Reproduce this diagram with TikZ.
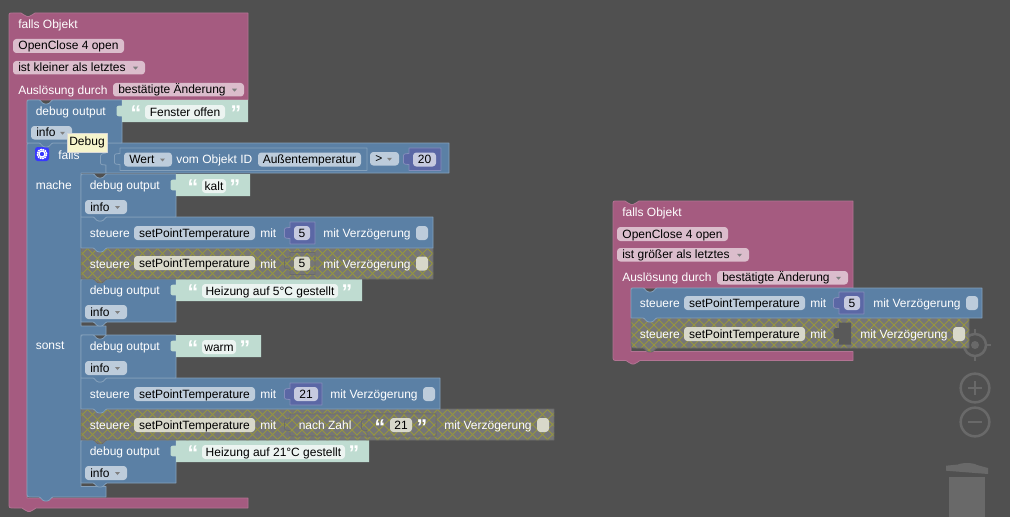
\documentclass[tikz,border=0pt]{standalone}
\usepackage{fontspec}
\setmainfont{Liberation Sans}
\definecolor{bgc}{HTML}{505050}
\definecolor{pinkc}{HTML}{A55B80}
\definecolor{bluec}{HTML}{5B80A5}
\definecolor{numc}{HTML}{5B67A5}
\definecolor{strc}{HTML}{BFDCD1}
\definecolor{ctlc}{HTML}{696969}
\definecolor{hatchbase}{HTML}{767676}
\definecolor{hatchline}{HTML}{96963E}
\definecolor{hatchfld}{HTML}{D8D8CA}
\tikzset{
  lbl/.style={text=white,anchor=west,inner sep=0pt,yshift=-1.2pt,font=\fontsize{9}{11}\selectfont},
  dark/.style={text=black,anchor=center,inner sep=0pt,yshift=-0.8pt,font=\fontsize{9}{11}\selectfont},
  blueblk/.style={fill=bluec,draw=bluec!75!white,line width=.6pt},
  numblk/.style={fill=numc,draw=numc!75!white,line width=.6pt},
  strblk/.style={fill=strc},
  hatchedge/.style={draw=black!58!white,line width=.6pt},
  fldp/.style={fill=white!60!pinkc,rounded corners=2.5pt},
  fldb/.style={fill=white!60!bluec,rounded corners=2.5pt},
  fldh/.style={fill=hatchfld,rounded corners=2.5pt},
  flds/.style={fill=white!70!strc,rounded corners=2.5pt},
  fldn/.style={fill=white!65!numc,rounded corners=2.5pt},
  ctl/.style={draw=ctlc,line width=1.9pt},
  quot/.style={text=white,inner sep=0pt,font=\fontsize{16}{16}\selectfont\bfseries}
}
% stacked statement block: x1 y1 x2 y2 style corner
\newcommand\stmtblk[6]{%
  \path[#5] (#1,#2+#6) .. controls (#1,#2) .. (#1+#6,#2) -- (#1+12,#2)
    .. controls +(2,0) and +(-3,0) .. ++(6,4) -- ++(2,0)
    .. controls +(3,0) and +(-2,0) .. ++(6,-4)
    -- (#3,#2) -- (#3,#4) -- (#1+26,#4)
    .. controls +(-2,0) and +(3,0) .. ++(-6,4) -- ++(-2,0)
    .. controls +(-3,0) and +(2,0) .. ++(-6,-4)
    -- (#1,#4) -- cycle;}
% crosshatched area: path x1 y1 x2 y2
\newcommand\hatchfill[5]{%
  \begin{scope}
    \clip #1;
    \fill[hatchbase] (#2-8,#3-6) rectangle (#4+1,#5+6);
    \foreach \k [evaluate=\k as \kk using {\k*10+#2-50}] in {0,1,...,62}{
      \draw[hatchline,line width=.75pt] (\kk,#3-6) -- (\kk+#5-#3+12,#5+6)
        (\kk+#5-#3+12,#3-6) -- (\kk,#5+6);}
  \end{scope}
  \path[hatchedge] #1;}
\newcommand\hatchstmt[4]{%
  \hatchfill{(#1,#2) -- (#1+12,#2)
    .. controls +(2,0) and +(-3,0) .. ++(6,4) -- ++(2,0)
    .. controls +(3,0) and +(-2,0) .. ++(6,-4)
    -- (#3,#2) -- (#3,#4) -- (#1+26,#4)
    .. controls +(-2,0) and +(3,0) .. ++(-6,4) -- ++(-2,0)
    .. controls +(-3,0) and +(2,0) .. ++(-6,-4)
    -- (#1,#4) -- cycle}{#1}{#2}{#3}{#4}}
% value piece with left tab: x1 y1 x2 y2 style
\newcommand\valblk[5]{%
  \path[#5] (#1,#2) -- (#3,#2) -- (#3,#4) -- (#1,#4) -- (#1,#2+16.5)
    .. controls +(-2,0) and +(0,2) .. ++(-5.5,-2) -- ++(0,-7)
    .. controls +(0,-2) and +(-2,0) .. (#1,#2+5.5) -- cycle;}
\newcommand\hatchval[4]{%
  \hatchfill{(#1,#2) -- (#3,#2) -- (#3,#4) -- (#1,#4) -- (#1,#2+16.5)
    .. controls +(-2,0) and +(0,2) .. ++(-5.5,-2) -- ++(0,-7)
    .. controls +(0,-2) and +(-2,0) .. (#1,#2+5.5) -- cycle}{#1}{#2}{#3}{#4}}
% field: x1 y1 x2 y2 style text id
\newcommand\fld[7]{%
  \path[#5] (#1,#2) rectangle (#3,#4);
  \node[dark] (#7) at ({(#1+#3)/2},{(#2+#4)/2}) {\strut #6};}
% dropdown field: text starts at left+5
\newcommand\drop[7]{%
  \path[#5] (#1,#2) rectangle (#3,#4);
  \node[dark,anchor=west] (#7) at (#1+5,{(#2+#4)/2}) {\strut #6};
  \path[fill=black!50!white] (#3-12,{(#2+#4)/2-1}) -- ++(5,0) -- ++(-2.5,3) -- cycle;}
% white quotes around a text field: left right y id
\newcommand\quotes[4]{%
  \node[quot] (#4a) at (#1,#3+2.5) {“};
  \node[quot] (#4b) at (#2,#3+2.5) {”};}
% debug output block with text: y textright q1 q2 text id
\newcommand\dbg[6]{%
  \stmtblk{81}{#1}{176}{#1+43}{blueblk}{4}
  \valblk{176}{#1}{#2}{#1+22}{strblk}
  \node[lbl] (#6l) at (89.5,#1+11) {\strut debug output};
  \fld{#3+9}{#1+5}{#4-9}{#1+19}{flds}{#5}{#6t}
  \quotes{#3}{#4}{#1+11}{#6q}
  \drop{85}{#1+26}{127}{#1+40}{fldb}{info}{#6i}}
\begin{document}
\begin{tikzpicture}[x=0.75pt,y=-0.75pt,line join=round]
\useasboundingbox (0,0) rectangle (1010,517);
\fill[bgc] (0,0) rectangle (1010,517);

% --- workspace controls
\node[circle,ctl,fill=none,minimum size=16.5pt,inner sep=0pt] (target) at (975,345) {};
\node[circle,fill=ctlc,minimum size=6pt,inner sep=0pt] (targetdot) at (975,345) {};
\draw[ctl] (975,329) -- (975,334) (975,356) -- (975,361) (959,345) -- (964,345) (986,345) -- (991,345);
\node[circle,ctl,minimum size=21.5pt,inner sep=0pt] (zoomin) at (975,388) {};
\draw[ctl] (968,388) -- (982,388) (975,381) -- (975,395);
\node[circle,ctl,minimum size=21.5pt,inner sep=0pt] (zoomout) at (975,422) {};
\draw[ctl] (968,422) -- (982,422);
\fill[ctlc] (949,477) rectangle (985,517);
\fill[ctlc] (946,465.7) -- (958,464.5) .. controls (962,462.5) and (973,462.5) .. (977,465) -- (988,468) -- (988,474) -- (946,470.7) -- cycle;

% ================= LEFT STACK =================
\path[fill=pinkc,draw=pinkc!85!white,line width=.6pt] (9,17) .. controls (9,13) .. (13,13) -- (21,13)
   .. controls +(2,0) and +(-3,0) .. ++(6,3.5) -- ++(2,0) .. controls +(3,0) and +(-2,0) .. ++(6,-3.5)
   -- (248,13) -- (248,100) -- (27,100) -- (27,498) -- (248,498) -- (248,508)
   -- (36,508) .. controls +(-2,0) and +(3,0) .. ++(-6,3.5) -- ++(-2,0) .. controls +(-3,0) and +(2,0) .. ++(-6,-3.5)
   -- (14,508) .. controls (9,508) .. (9,503) -- cycle;
\node[lbl] (t1) at (18,24) {\strut falls Objekt};
\fld{13}{39}{124}{53}{fldp}{OpenClose 4 open}{t2}
\drop{13}{61}{145}{74.5}{fldp}{ist kleiner als letztes}{t3}
\node[lbl] (t4) at (18,90) {\strut Auslösung durch};
\drop{113}{83}{244}{96.5}{fldp}{bestätigte Änderung}{t5}

% blue C (falls/mache/sonst)
\path[blueblk] (27,147) .. controls (27,143) .. (31,143) -- (106,143) -- (106,173) -- (81,173) -- (81,326) -- (106,326)
   -- (106,335) -- (81,335) -- (81,486.5) -- (106,486.5) -- (106,497)
   -- (53,497) .. controls +(-2,0) and +(3,0) .. ++(-6,4) -- ++(-2,0) .. controls +(-3,0) and +(2,0) .. ++(-6,-4)
   -- (32,497) .. controls (27,497) .. (27,492) -- cycle;
% compare block
\path[blueblk] (106,143) -- (449,143) -- (449,173) -- (106,173) -- (106,165)
   .. controls +(-2,0) and +(0,2) .. ++(-5.5,-2) -- ++(0,-7) .. controls +(0,-2) and +(-2,0) .. (106,153) -- cycle;
\valblk{120}{148}{367}{170.5}{blueblk}
\drop{124}{152.5}{172}{166.5}{fldb}{Wert}{wert}
\node[lbl] (vom) at (176,159) {\strut vom Objekt ID};
\fld{258}{152.5}{361}{166.5}{fldb}{Außentemperatur}{aussen}
\drop{370}{152}{399}{165.5}{fldb}{>}{gt}
\valblk{409}{148}{441}{170.5}{numblk}
\fld{413}{152.5}{436}{166.5}{fldn}{20}{n20}
\node[lbl] (falls) at (58,155) {\strut falls};
\node[lbl] (mache) at (35.5,185) {\strut mache};
\node[lbl] (sonst) at (35.5,345) {\strut sonst};
% gear icon
\path[fill=blue!78!white,rounded corners=2pt] (35,147) rectangle (49,161);
\node[circle,draw=white,line width=1.2pt,minimum size=7pt,inner sep=0pt,dash pattern=on 1.3pt off .5pt] (gearteeth) at (42,154) {};
\node[circle,draw=white,line width=.9pt,minimum size=4.5pt,inner sep=0pt] (gear) at (42,154) {};

% mache stack (bottom to top)
\dbg{279}{362}{193}{347}{Heizung auf 5°C gestellt}{d3}
\hatchstmt{81}{248}{433}{279}
\node[lbl] (s2a) at (89.5,263.5) {\strut steuere};
\fld{134}{256}{255}{270}{fldh}{setPointTemperature}{s2f}
\node[lbl] (s2m) at (260,263.5) {\strut mit};
\hatchval{290}{252.5}{315}{274.5}
\fld{294}{256.5}{310}{270.5}{fldh}{5}{s2n}
\node[lbl] (s2v) at (323,263.5) {\strut mit Verzögerung};
\path[fldh] (416,256.5) rectangle (428,270.5);
\stmtblk{81}{217}{433}{248}{blueblk}{0}
\node[lbl] (s1a) at (89.5,233) {\strut steuere};
\fld{134}{226}{255}{240}{fldb}{setPointTemperature}{s1f}
\node[lbl] (s1m) at (260,233) {\strut mit};
\valblk{290}{222}{315}{244}{numblk}
\fld{294}{226}{310}{240}{fldn}{5}{s1n}
\node[lbl] (s1v) at (323,233) {\strut mit Verzögerung};
\path[fldb] (416,226) rectangle (428,240);
\dbg{174}{250}{193}{235}{kalt}{d2}

% sonst stack
\dbg{440}{369}{193}{354}{Heizung auf 21°C gestellt}{d5}
\hatchstmt{81}{409}{554}{440}
\node[lbl] (s4a) at (89.5,425) {\strut steuere};
\fld{134}{418}{255}{432}{fldh}{setPointTemperature}{s4f}
\node[lbl] (s4m) at (260,425) {\strut mit};
\hatchval{290}{414}{436}{436}
\node[lbl] (s4z) at (298.5,425) {\strut nach Zahl};
\hatchval{367}{414}{436}{436}
\fld{390}{418}{412}{432}{fldh}{21}{s4n}
\quotes{380}{422}{425}{s4q}
\node[lbl] (s4v) at (444,425) {\strut mit Verzögerung};
\path[fldh] (537,418) rectangle (549,432);
\stmtblk{81}{378}{440}{409}{blueblk}{0}
\node[lbl] (s3a) at (89.5,394) {\strut steuere};
\fld{134}{387}{255}{401}{fldb}{setPointTemperature}{s3f}
\node[lbl] (s3m) at (260,394) {\strut mit};
\valblk{290}{383}{322}{405}{numblk}
\fld{294}{387}{318}{401}{fldn}{21}{s3n}
\node[lbl] (s3v) at (330,394) {\strut mit Verzögerung};
\path[fldb] (423,387) rectangle (435,401);
\dbg{335}{261}{193}{245}{warm}{d4}

% first debug block
\stmtblk{27}{100}{122}{143}{blueblk}{4}
\valblk{122}{100}{248}{122}{strblk}
\node[lbl] (d1l) at (35.5,111) {\strut debug output};
\fld{145}{105}{225}{119}{flds}{Fenster offen}{d1t}
\quotes{136}{236}{111}{d1q}
\drop{31}{126}{72}{139.5}{fldb}{info}{d1i}
% tooltip
\node[draw=black!15!white,fill=yellow!18!white!96!black,text=black,inner sep=0pt,minimum width=30pt,minimum height=14.2pt,font=\fontsize{9}{11}\selectfont] (tip) at (87,142.5) {Debug};

% ================= RIGHT STACK =================
\path[fill=pinkc,draw=pinkc!85!white,line width=.6pt] (613,205) .. controls (613,201) .. (617,201) -- (625,201)
   .. controls +(2,0) and +(-3,0) .. ++(6,3.5) -- ++(2,0) .. controls +(3,0) and +(-2,0) .. ++(6,-3.5)
   -- (853,201) -- (853,288) -- (631,288) -- (631,351.5) -- (853,351.5) -- (853,360.5)
   -- (640,360.5) .. controls +(-2,0) and +(3,0) .. ++(-6,3.5) -- ++(-2,0) .. controls +(-3,0) and +(2,0) .. ++(-6,-3.5)
   -- (618,360.5) .. controls (613,360.5) .. (613,355.5) -- cycle;
\node[lbl] (r1) at (622,212) {\strut falls Objekt};
\fld{617}{227}{728}{241}{fldp}{OpenClose 4 open}{r2}
\drop{617}{248}{749}{261.5}{fldp}{ist größer als letztes}{r3}
\node[lbl] (r4) at (622,277) {\strut Auslösung durch};
\drop{717}{271}{848}{284.5}{fldp}{bestätigte Änderung}{r5}
% hatched
\hatchfill{(631,318) -- (969,318) -- (969,348) -- (657,348)
   .. controls +(-2,0) and +(3,0) .. ++(-6,4) -- ++(-2,0) .. controls +(-3,0) and +(2,0) .. ++(-6,-4)
   -- (636,348) .. controls (631,348) .. (631,343) -- cycle}{631}{318}{969}{352}
\node[lbl] (r6a) at (639.5,334) {\strut steuere};
\fld{684}{327}{805}{341}{fldh}{setPointTemperature}{r6f}
\node[lbl] (r6m) at (810,334) {\strut mit};
\valblk{839}{322.5}{851}{344.5}{fill=black!65!white}
\node[lbl] (r6v) at (860,334) {\strut mit Verzögerung};
\path[fldh] (953,327) rectangle (965,341);
% blue
\stmtblk{631}{288}{982}{318}{blueblk}{4}
\node[lbl] (r7a) at (639.5,303) {\strut steuere};
\fld{684}{296}{805}{310}{fldb}{setPointTemperature}{r7f}
\node[lbl] (r7m) at (810,303) {\strut mit};
\valblk{839}{292}{864}{314}{numblk}
\fld{844}{296}{860}{310}{fldn}{5}{r7n}
\node[lbl] (r7v) at (873,303) {\strut mit Verzögerung};
\path[fldb] (966,296) rectangle (978,310);
\end{tikzpicture}
\end{document}
